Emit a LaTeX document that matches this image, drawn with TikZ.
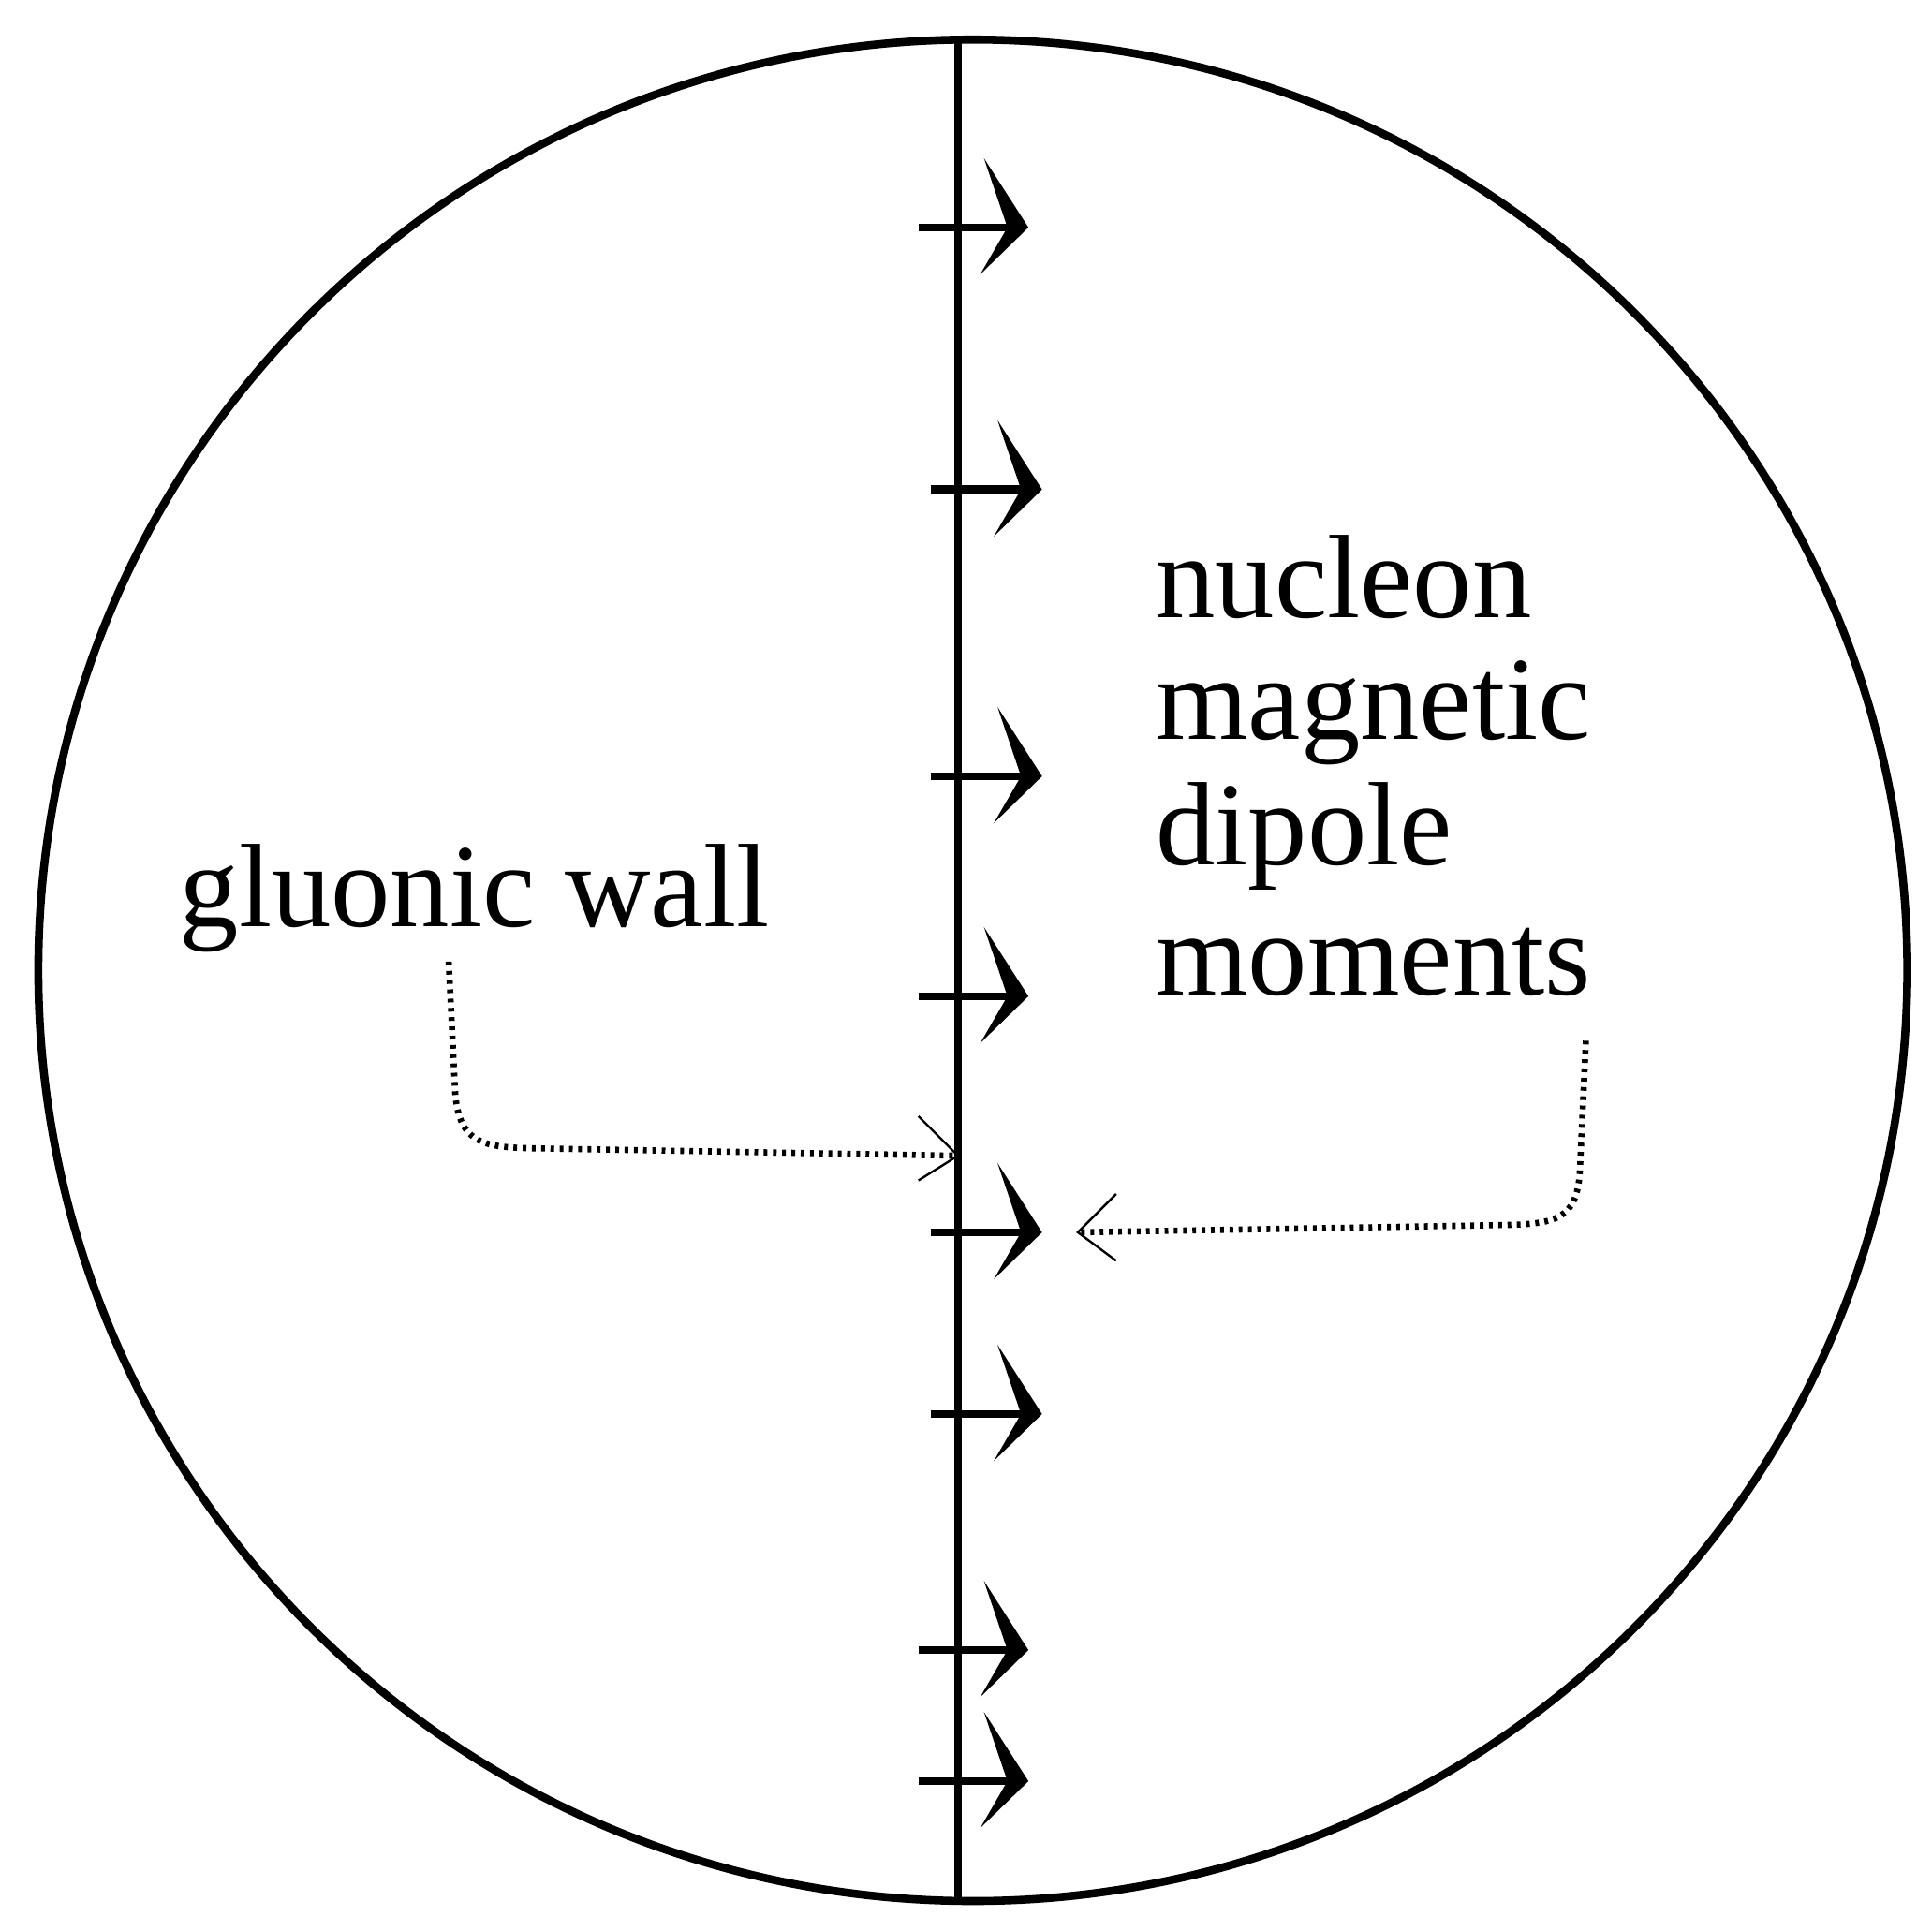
\documentclass[tikz,border=0pt]{standalone}
\usepackage{fontspec}
\setmainfont{Liberation Serif}
\begin{document}
\begin{tikzpicture}[x=1pt,y=-1pt,
  thick line/.style={line width=6.5pt},
  dip/.style={line width=6.5pt},
  dotline/.style={line width=5pt, dash pattern=on 3pt off 4.5pt},
  lbl/.style={font=\fontsize{96}{102}\selectfont, inner sep=0pt, anchor=base west}]
\useasboundingbox (0,0) rectangle (1563,1550);
\draw[thick line] (787,785) ellipse (756 and 753);
\coordinate (top) at (775,32);
\coordinate (bot) at (775,1535);
\draw[thick line] (top) -- (bot);
\foreach \i/\s/\y/\t in {1/743/184/832,2/753/396/843,3/753/628/843,4/743/806/832,5/753/997/843,6/753/1144/843,7/743/1335/832,8/743/1441/832}{
  \coordinate (s\i) at (\s,\y);
  \coordinate (t\i) at (\t-14,\y);
  \draw[dip] (s\i) -- (t\i);
  \fill (\t,\y) -- (\t-36,\y-56) -- (\t-17,\y) -- (\t-39,\y+38) -- cycle;
}
\node[lbl] (gw) at (145,750) {gluonic wall};
\node[lbl] (n1) at (935,500) {nucleon};
\node[lbl] (n2) at (935,598) {magnetic};
\node[lbl] (n3) at (935,700) {dipole};
\node[lbl] (n4) at (935,805) {moments};
\coordinate (a0) at (363,778);
\coordinate (a1) at (775,935);
\draw[dotline] (a0) -- (368,880) .. controls (370,925) and (390,928) .. (430,929) -- (a1);
\draw[line width=1.8pt] (743,903) -- (a1) -- (743,955);
\coordinate (b0) at (1283,842);
\coordinate (b1) at (872,997);
\draw[dotline] (b0) -- (1278,950) .. controls (1275,985) and (1260,990) .. (1220,991) -- (b1);
\draw[line width=1.8pt] (903,966) -- (b1) -- (903,1020);
\end{tikzpicture}
\end{document}
